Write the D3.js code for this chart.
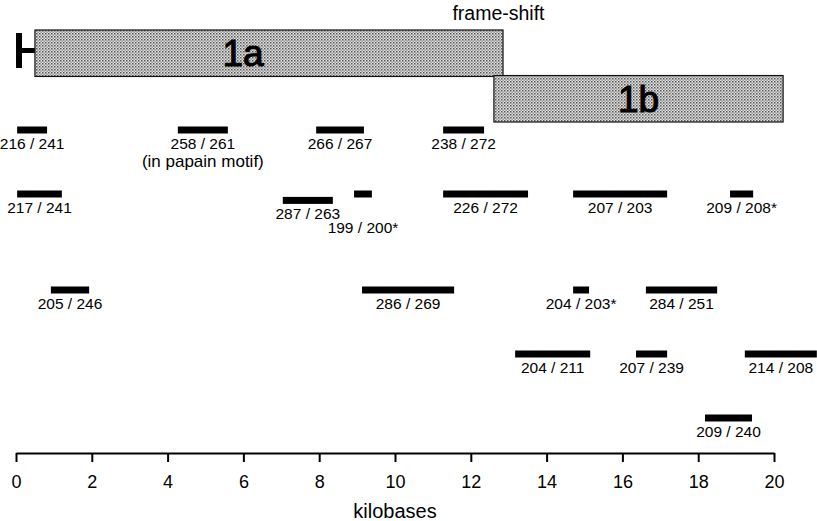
<!DOCTYPE html>
<html>
<head>
<meta charset="utf-8">
<script src="https://cdn.jsdelivr.net/npm/d3@7"></script>
<style>
  body { margin: 0; background: #fff; }
  svg { display: block; font-family: "Liberation Sans", Arial, sans-serif; }
</style>
</head>
<body>
<svg id="chart" width="817" height="521"></svg>
<script>
'use strict';

// kilobase axis
var tickValues = [0, 2, 4, 6, 8, 10, 12, 14, 16, 18, 20];

// open reading frames (kb)
var orfNames = ['1a', '1b'];
var orfStart = [0.5, 12.61];
var orfEnd = [12.85, 20.24];
var orfRow = [0, 1];
var leaderEnd = 0.5;

// mapped fragments: label, start kb, end kb, lane
var fragLabels = ['216 / 241', '258 / 261', '266 / 267', '238 / 272',
    '217 / 241', '287 / 263', '199 / 200*', '226 / 272', '207 / 203', '209 / 208*',
    '205 / 246', '286 / 269', '204 / 203*', '284 / 251',
    '204 / 211', '207 / 239', '214 / 208',
    '209 / 240'];
var fragStart = [0.03, 4.27, 7.92, 11.27,
    0.03, 7.04, 8.92, 11.27, 14.70, 18.84,
    0.92, 9.13, 14.70, 16.62,
    13.17, 16.36, 19.23,
    18.18];
var fragEnd = [0.82, 5.59, 9.18, 12.35,
    1.21, 8.36, 9.39, 13.51, 17.18, 19.45,
    1.93, 11.56, 15.12, 18.50,
    15.15, 17.18, 21.13,
    19.42];
var fragLane = [0, 0, 0, 0,
    1, 1.1, 1, 1, 1, 1,
    2.5, 2.5, 2.5, 2.5,
    3.5, 3.5, 3.5,
    4.5];
var loweredLabels = ['199 / 200*'];
var notes = [{ label: '258 / 261', text: '(in papain motif)' }];

var svg = d3.select('#chart');

var x = d3.scaleLinear().domain([0, 20]).range([16, 774]);
var lane = d3.scaleLinear().domain([0, 4.5]).range([130, 418]);
var orfY = d3.scaleBand().domain([0, 1]).range([30, 122]).paddingInner(-0.02);

/** stipple fill for the ORF boxes */
var pat = svg.append('defs').append('pattern')
    .attr('id', 'stipple')
    .attr('patternUnits', 'userSpaceOnUse')
    .attr('width', 3)
    .attr('height', 3);
pat.append('rect').attr('width', 3).attr('height', 3).attr('fill', '#e2e2e2');
pat.append('rect').attr('x', 0).attr('y', 0).attr('width', 1.5).attr('height', 1.5).attr('fill', '#555');
pat.append('rect').attr('x', 1.5).attr('y', 1.5).attr('width', 1.3).attr('height', 1.3).attr('fill', '#7a7a7a');

/** leader */
svg.append('line')
    .attr('x1', x(0) + 3).attr('x2', x(0) + 3)
    .attr('y1', 33).attr('y2', 68)
    .attr('stroke', '#000').attr('stroke-width', 6);
svg.append('line')
    .attr('x1', x(0) + 3).attr('x2', x(leaderEnd))
    .attr('y1', 50.5).attr('y2', 50.5)
    .attr('stroke', '#000').attr('stroke-width', 5);

/** ORF boxes */
var orfs = orfNames.map(function(n, i) {
    return { name: n, start: orfStart[i], end: orfEnd[i], row: orfRow[i] };
});
svg.selectAll('rect.orf')
    .data(orfs)
    .enter()
    .append('rect')
    .attr('class', 'orf')
    .attr('x', function(d) { return x(d.start); })
    .attr('y', function(d) { return orfY(d.row); })
    .attr('width', function(d) { return x(d.end) - x(d.start); })
    .attr('height', orfY.bandwidth())
    .attr('fill', 'url(#stipple)')
    .attr('stroke', '#111')
    .attr('stroke-width', 1.2);

svg.selectAll('text.orf')
    .data(orfs)
    .enter()
    .append('text')
    .attr('class', 'orf')
    .attr('x', function(d) { return d.row === 0 ? 243 : (x(d.start) + x(d.end)) / 2; })
    .attr('y', function(d) { return orfY(d.row) + orfY.bandwidth() / 2 + 13; })
    .attr('text-anchor', 'middle')
    .attr('font-size', 37)
    .attr('fill', '#000')
    .attr('stroke', '#000')
    .attr('stroke-width', 1.1)
    .text(function(d) { return d.name; });

svg.append('text')
    .attr('x', x(12.73))
    .attr('y', 20)
    .attr('text-anchor', 'middle')
    .attr('font-size', 19.5)
    .text('frame-shift');

/** fragments */
var frags = fragLabels.map(function(l, i) {
    return { label: l, start: fragStart[i], end: fragEnd[i], lane: fragLane[i] };
});
svg.selectAll('rect.frag')
    .data(frags)
    .enter()
    .append('rect')
    .attr('class', 'frag')
    .attr('x', function(d) { return x(d.start); })
    .attr('y', function(d) { return lane(d.lane) - 3.5; })
    .attr('width', function(d) { return x(d.end) - x(d.start); })
    .attr('height', 7)
    .attr('fill', '#000');

svg.selectAll('text.frag')
    .data(frags)
    .enter()
    .append('text')
    .attr('class', 'frag')
    .attr('x', function(d) { return (x(d.start) + Math.min(x(d.end), 817)) / 2; })
    .attr('y', function(d) {
        return lane(d.lane) + (loweredLabels.indexOf(d.label) >= 0 ? 39 : 19);
    })
    .attr('text-anchor', 'middle')
    .attr('font-size', 15.5)
    .text(function(d) { return d.label; });

notes.forEach(function(n) {
    var f = frags.filter(function(d) { return d.label === n.label; })[0];
    svg.append('text')
        .attr('x', (x(f.start) + x(f.end)) / 2)
        .attr('y', lane(f.lane) + 37)
        .attr('text-anchor', 'middle')
        .attr('font-size', 17)
        .text(n.text);
});

/** axis */
var axis = svg.append('g')
    .attr('transform', 'translate(0,453)')
    .call(d3.axisBottom(x)
        .tickValues(tickValues)
        .tickFormat(d3.format('d'))
        .tickSize(9)
        .tickSizeOuter(0)
        .tickPadding(13));
axis.select('.domain').attr('stroke-width', 2);
axis.selectAll('.tick line').attr('stroke-width', 2);
axis.selectAll('.tick text')
    .attr('font-size', 18)
    .attr('font-family', '"Liberation Sans", Arial, sans-serif')
    .attr('fill', '#000');

svg.append('text')
    .attr('x', x(10))
    .attr('y', 518)
    .attr('text-anchor', 'middle')
    .attr('font-size', 20)
    .text('kilobases');
</script>
</body>
</html>
